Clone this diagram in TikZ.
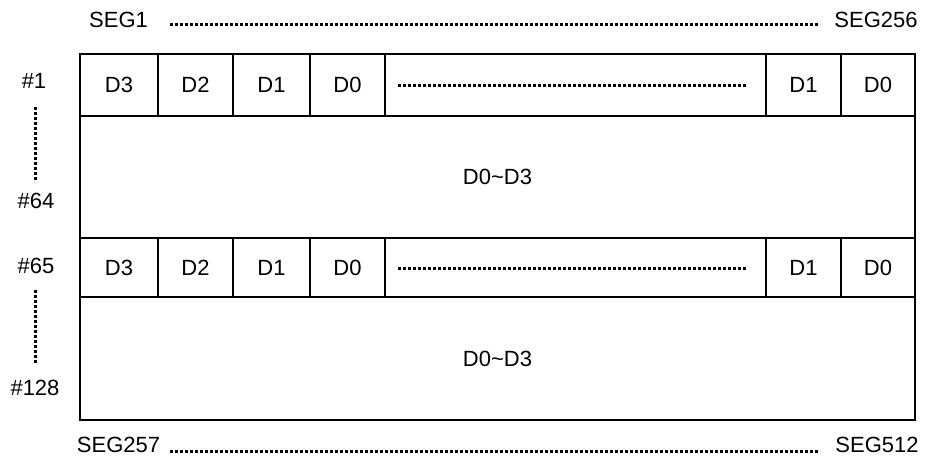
\documentclass[tikz,border=0pt]{standalone}
\usepackage{fontspec}
\setmainfont{Liberation Sans}
\begin{document}
\begin{tikzpicture}[x=1pt,y=-1pt,
  lbl/.style={font=\fontsize{22}{22}\selectfont, inner sep=0pt},
  cell/.style={draw, line width=2pt, inner sep=0pt, font=\fontsize{22}{22}\selectfont},
  dotline/.style={line width=3pt, dash pattern=on 3pt off 2pt}]
\useasboundingbox (0,0) rectangle (926,458);
% block 1, top row
\node[cell, minimum width=78pt, minimum height=62pt] (a3) at (119,85) {D3};
\node[cell, minimum width=75pt, minimum height=62pt] (a2) at (195.5,85) {D2};
\node[cell, minimum width=77pt, minimum height=62pt] (a1) at (271.5,85) {D1};
\node[cell, minimum width=75pt, minimum height=62pt] (a0) at (347.5,85) {D0};
\node[cell, minimum width=381pt, minimum height=62pt] (aw) at (575.5,85) {};
\node[cell, minimum width=75pt, minimum height=62pt] (ar1) at (803.5,85) {D1};
\node[cell, minimum width=74pt, minimum height=62pt] (ar0) at (878,85) {D0};
\node[cell, minimum width=835pt, minimum height=122pt] (abody) at (497.5,177) {D0\char`\~D3};
% block 2, top row
\node[cell, minimum width=78pt, minimum height=59pt] (b3) at (119,267.5) {D3};
\node[cell, minimum width=75pt, minimum height=59pt] (b2) at (195.5,267.5) {D2};
\node[cell, minimum width=77pt, minimum height=59pt] (b1) at (271.5,267.5) {D1};
\node[cell, minimum width=75pt, minimum height=59pt] (b0) at (347.5,267.5) {D0};
\node[cell, minimum width=381pt, minimum height=59pt] (bw) at (575.5,267.5) {};
\node[cell, minimum width=75pt, minimum height=59pt] (br1) at (803.5,267.5) {D1};
\node[cell, minimum width=74pt, minimum height=59pt] (br0) at (878,267.5) {D0};
\node[cell, minimum width=835pt, minimum height=123pt] (bbody) at (497.5,358.5) {D0\char`\~D3};
% dotted lines inside the wide cells
\coordinate (aws) at (398,85); \coordinate (awe) at (747,85);
\coordinate (bws) at (398,268); \coordinate (bwe) at (747,268);
\draw[dotline] (aws) -- (awe);
\draw[dotline] (bws) -- (bwe);
% SEG labels
\node[lbl] (seg1) at (118.5,19.5) {SEG1};
\node[lbl] (seg256) at (876,19.5) {SEG256};
\node[lbl] (seg257) at (118.5,445) {SEG257};
\node[lbl] (seg512) at (877,445) {SEG512};
\coordinate (t1) at (170,24); \coordinate (t2) at (820,24);
\coordinate (u1) at (170,451); \coordinate (u2) at (820,451);
\draw[dotline] (t1) -- (t2);
\draw[dotline] (u1) -- (u2);
% row labels
\node[lbl] (h1) at (34,80.5) {\#1};
\node[lbl] (h64) at (36,200.5) {\#64};
\node[lbl] (h65) at (36,265.5) {\#65};
\node[lbl] (h128) at (35,388) {\#128};
\coordinate (v1) at (35,107); \coordinate (v2) at (35,182);
\coordinate (w1) at (35,290); \coordinate (w2) at (35,363);
\draw[dotline] (v1) -- (v2);
\draw[dotline] (w1) -- (w2);
\end{tikzpicture}
\end{document}
